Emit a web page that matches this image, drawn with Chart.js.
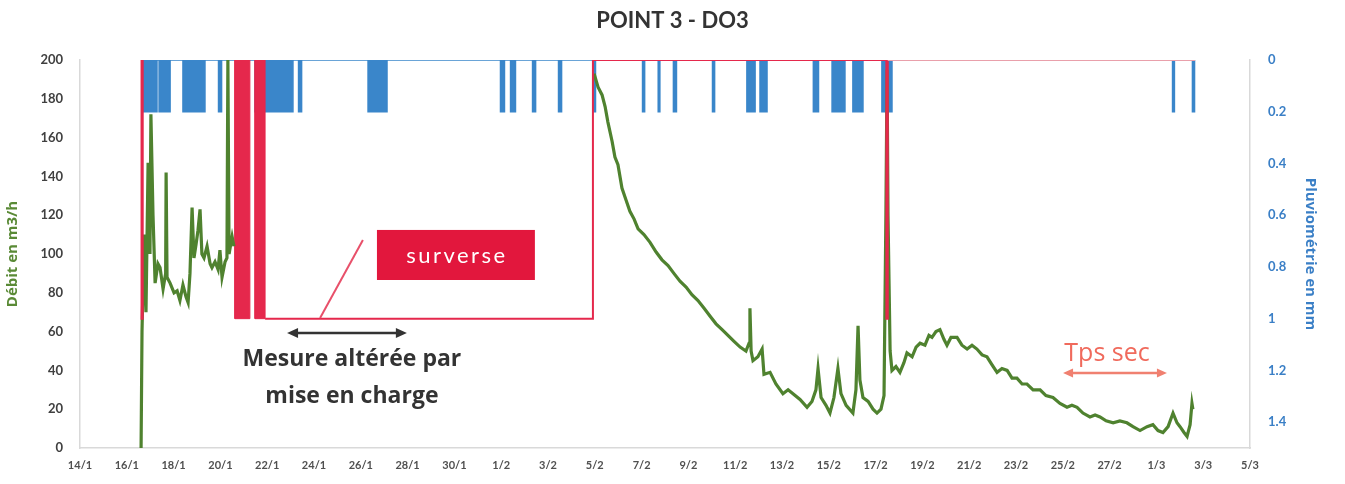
<!DOCTYPE html>
<html>
<head>
<meta charset="utf-8">
<script src="https://cdn.jsdelivr.net/npm/chart.js@4"></script>
<style>
html,body{margin:0;padding:0;background:#fff;}
#wrap{width:1345px;height:484px;position:relative;}
</style>
</head>
<body>
<div id="wrap"><canvas id="c" width="1345" height="484"></canvas></div>
<script>
// ---- x axis: days since 14/1 ----
const xTickLabels = ['14/1','16/1','18/1','20/1','22/1','24/1','26/1','28/1','30/1','1/2','3/2','5/2','7/2','9/2','11/2','13/2','15/2','17/2','19/2','21/2','23/2','25/2','27/2','1/3','3/3','5/3'];
const leftTicks = [0,20,40,60,80,100,120,140,160,180,200];
const rightTicks = [0,0.2,0.4,0.6,0.8,1,1.2,1.4];

// ---- Débit (m3/h) : [day, value] ----
const debitJanvier = [
 [2.61,0],[2.65,60],[2.74,110],[2.82,70],[2.91,147],[2.99,100],[3.03,172],[3.12,120],[3.21,85],[3.33,95],
 [3.42,93],[3.55,82],[3.66,90],[3.68,142],[3.72,88],[3.85,85],[4.02,80],[4.15,81],[4.27,76],[4.40,84],
 [4.53,78],[4.62,75],[4.70,90],[4.79,124],[4.87,98],[4.96,105],[5.04,112],[5.13,123],[5.21,100],[5.30,98],
 [5.43,104],[5.56,95],[5.64,93],[5.77,96],[5.90,92],[5.98,102],[6.07,88],[6.20,96],[6.28,98],[6.32,200],
 [6.37,100],[6.50,109],[6.58,104]
];
const debitFevrier = [
 [21.97,193],[22.14,186],[22.31,182],[22.44,176],[22.56,168],[22.74,158],[22.86,150],[22.99,146],[23.16,134],[23.33,128],
 [23.50,122],[23.68,118],[23.85,113],[24.10,110],[24.36,106],[24.62,101],[24.87,97],[25.13,94],[25.38,90],[25.64,86],
 [25.90,83],[26.15,79],[26.41,76],[26.67,72],[26.92,68],[27.18,64],[27.44,61],[27.69,58],[27.95,55],[28.21,52],
 [28.46,50],[28.59,54],[28.63,72],[28.68,50],[28.76,45],[28.97,47],[29.15,51],[29.23,38],[29.49,39],[29.74,33],
 [30.04,28],[30.26,30],[30.47,28],[30.77,25],[31.07,21],[31.28,24],[31.45,30],[31.54,41],[31.67,26],[31.88,22],
 [32.05,18],[32.22,26],[32.39,41],[32.52,28],[32.74,22],[33.03,18],[33.16,30],[33.25,63],[33.33,35],[33.46,26],
 [33.68,24],[33.89,20],[34.06,18],[34.23,20],[34.36,27],[34.44,120],[34.49,195],[34.53,120],[34.62,50],[34.70,40],
 [34.87,42],[35.04,39],[35.21,44],[35.34,49],[35.56,47],[35.73,52],[35.90,54],[36.11,53],[36.28,58],[36.41,57],
 [36.58,60],[36.75,61],[36.92,56],[37.05,53],[37.22,57],[37.48,57],[37.69,53],[37.91,51],[38.12,53],[38.33,51],
 [38.55,48],[38.76,47],[38.97,43],[39.19,39],[39.40,41],[39.62,40],[39.83,36],[40.04,36],[40.26,33],[40.47,33],
 [40.73,30],[41.03,30],[41.28,27],[41.58,26],[41.88,23],[42.18,21],[42.39,22],[42.61,21],[42.86,18],[43.16,16],
 [43.38,17],[43.59,16],[43.85,14],[44.15,13],[44.44,14],[44.74,13],[45.00,11],[45.30,9],[45.60,11],[45.85,12],
 [46.07,9],[46.28,8],[46.50,11],[46.71,18],[46.88,13],[47.01,11],[47.18,8],[47.31,6],[47.44,12],[47.52,23],[47.56,20]
];

// ---- Pluviométrie (mm) : events ----
const pluieDebut = [2.65,3.38,4.40,5.92,7.48,9.34,12.31,17.97,18.40,19.34,20.45,21.94,24.04,24.71,25.36,27.03,28.50,29.06,31.34,32.14,33.03,34.27,46.69,47.54];
const pluieFin   = [3.29,3.85,5.34,6.05,9.10,9.47,13.12,18.14,18.61,19.47,20.58,22.03,24.13,24.78,25.49,27.12,28.85,29.36,31.56,32.69,33.46,34.70,46.77,47.63];
const pluieMm    = [0.2,0.2,0.2,0.2,0.2,0.2,0.2,0.2,0.2,0.2,0.2,0.2,0.2,0.2,0.2,0.2,0.2,0.2,0.2,0.2,0.2,0.2,0.2,0.2];

// ---- Surverse (0/1) ; null = pas de tracé ----
const surverseJours = [2.60,2.63,2.68,5.00,7.91,21.92,34.46,34.52,47.65];
const surverseEtat  = [0,1,0,null,1,0,1,0,0];
const surverseBlocsDebut = [6.62,7.48];
const surverseBlocsFin   = [7.26,7.91];

// ---- build datasets ----
const toXY = arr => arr.map(p => ({x:p[0], y:p[1]}));
const debitData = toXY(debitJanvier).concat([{x:14, y:null}], toXY(debitFevrier));

const pluieData = [];
pluieDebut.forEach((s,i) => {
  const e = pluieFin[i], v = pluieMm[i];
  pluieData.push({x:s,y:0},{x:s,y:v},{x:e,y:v},{x:e,y:0});
});

const surverseData = surverseJours.map((t,i) => ({x:t, y:surverseEtat[i]}));
const blocsData = [];
surverseBlocsDebut.forEach((s,i) => {
  const e = surverseBlocsFin[i];
  if (i>0) blocsData.push({x:(s+surverseBlocsFin[i-1])/2, y:null});
  blocsData.push({x:s,y:0},{x:s,y:1},{x:e,y:1},{x:e,y:0});
});

const RED = '#E5284C';
const GREEN = '#4F822F';
const BLUE = '#3A86CA';

function arrow(ctx, x1, x2, y, color, w, head) {
  ctx.strokeStyle = color; ctx.fillStyle = color; ctx.lineWidth = w;
  ctx.beginPath(); ctx.moveTo(x1 + head*0.8, y); ctx.lineTo(x2 - head*0.8, y); ctx.stroke();
  ctx.beginPath(); ctx.moveTo(x1, y); ctx.lineTo(x1 + head, y - head*0.45); ctx.lineTo(x1 + head, y + head*0.45); ctx.closePath(); ctx.fill();
  ctx.beginPath(); ctx.moveTo(x2, y); ctx.lineTo(x2 - head, y - head*0.45); ctx.lineTo(x2 - head, y + head*0.45); ctx.closePath(); ctx.fill();
}

const annot = {
  id: 'annot',
  afterDatasetsDraw(chart) {
    const {ctx} = chart;
    const x = chart.scales.x, y = chart.scales.y;
    const px = d => x.getPixelForValue(d), py = v => y.getPixelForValue(v);
    ctx.save();
    // pointer line
    ctx.strokeStyle = '#E8506A'; ctx.lineWidth = 2;
    ctx.beginPath(); ctx.moveTo(px(12.09), py(107.2)); ctx.lineTo(px(10.26), py(67)); ctx.stroke();
    // surverse box
    const bx1 = px(12.69), bx2 = px(19.44), by1 = py(112.4), by2 = py(86.6);
    ctx.fillStyle = '#E2173D';
    ctx.fillRect(bx1, by1, bx2 - bx1, by2 - by1);
    ctx.fillStyle = '#fff';
    ctx.font = '22px Lato';
    ctx.letterSpacing = '2.5px';
    ctx.textAlign = 'center'; ctx.textBaseline = 'middle';
    ctx.fillText('surverse', (bx1 + bx2)/2 + 1, (by1 + by2)/2 + 1);
    ctx.letterSpacing = '0px';
    // mesure altérée
    arrow(ctx, px(8.85), px(13.97), py(59.3), '#333333', 2.5, 11);
    ctx.fillStyle = '#333333';
    ctx.font = 'bold 23px "Open Sans"';
    ctx.fillText('Mesure altérée par', px(11.62), py(45.9));
    ctx.fillText('mise en charge', px(11.62), py(26.8));
    // tps sec
    ctx.fillStyle = '#F06A5C';
    ctx.font = '25px "Open Sans"';
    ctx.fillText('Tps sec', px(43.89), py(48.5));
    arrow(ctx, px(42.01), px(46.45), py(38.7), '#F08070', 2.5, 10);
    ctx.restore();
  }
};

new Chart(document.getElementById('c'), {
  type: 'line',
  data: {
    datasets: [
      { label: 'Pluviométrie', data: pluieData, yAxisID: 'yR', borderColor: BLUE, backgroundColor: BLUE,
        borderWidth: 1.5, pointRadius: 0, fill: {value: 0}, order: 4, spanGaps: false },
      { label: 'Surverse blocs', data: blocsData, yAxisID: 'yR', borderColor: RED, backgroundColor: RED,
        borderWidth: 1, pointRadius: 0, fill: {value: 0}, order: 3, spanGaps: false },
      { label: 'Débit', data: debitData, yAxisID: 'y', borderColor: GREEN, borderWidth: 3.2,
        pointRadius: 0, fill: false, order: 2, spanGaps: false },
      { label: 'Surverse', data: surverseData, yAxisID: 'yR', borderColor: RED, borderWidth: 2,
        pointRadius: 0, fill: false, stepped: true, order: 1, spanGaps: false,
        segment: { borderColor: c => (c.p0.parsed.x >= 34.5 ? '#E9A0AB' : RED) } }
    ]
  },
  options: {
    responsive: false,
    animation: false,
    layout: { padding: 0 },
    plugins: {
      legend: { display: false },
      tooltip: { enabled: false },
      title: { display: true, text: 'POINT 3 - DO3', color: '#333333',
        font: { family: 'Lato', size: 22, weight: 'bold' }, padding: { top: 8, bottom: 25.6 } }
    },
    scales: {
      x: {
        type: 'linear', min: 0, max: 50,
        grid: { display: false, drawTicks: false },
        border: { display: true, color: '#D9D9D9', width: 1.5 },
        afterBuildTicks: s => { s.ticks = xTickLabels.map((l,i) => ({value: i*2})); },
        ticks: { autoSkip: false, maxRotation: 0, padding: 11, color: '#505050',
          font: { family: 'Lato', size: 11, weight: 'bold' },
          callback: v => xTickLabels[Math.round(v/2)] },
        afterFit: s => { s.height = 36; }
      },
      y: {
        position: 'left', min: 0, max: 200,
        grid: { display: false, drawTicks: false },
        border: { display: true, color: '#D9D9D9', width: 1.5 },
        afterBuildTicks: s => { s.ticks = leftTicks.map(v => ({value: v})); },
        ticks: { padding: 17, color: '#404040', font: { family: 'Lato', size: 13, weight: 'bold' } },
        title: { display: true, text: 'Débit en m3/h', color: '#5A8A36',
          font: { family: 'Open Sans', size: 15, weight: 'bold' }, padding: { top: 4, bottom: 0 } },
        afterFit: s => { s.width = 80; }
      },
      yR: {
        position: 'right', min: 0, max: 1.5, reverse: true,
        grid: { display: false, drawTicks: false },
        border: { display: true, color: '#D9D9D9', width: 1.5 },
        afterBuildTicks: s => { s.ticks = rightTicks.map(v => ({value: v})); },
        ticks: { padding: 18, color: '#3A7FC6', font: { family: 'Lato', size: 13, weight: 'bold' },
          callback: v => String(Number(v.toFixed(1))) },
        title: { display: true, text: 'Pluviométrie en mm', color: '#3A7FC6',
          font: { family: 'Open Sans', size: 15, weight: 'bold' }, padding: { top: 26, bottom: 0 } },
        afterFit: s => { s.width = 95; }
      }
    }
  },
  plugins: [annot]
});
</script>
</body>
</html>
